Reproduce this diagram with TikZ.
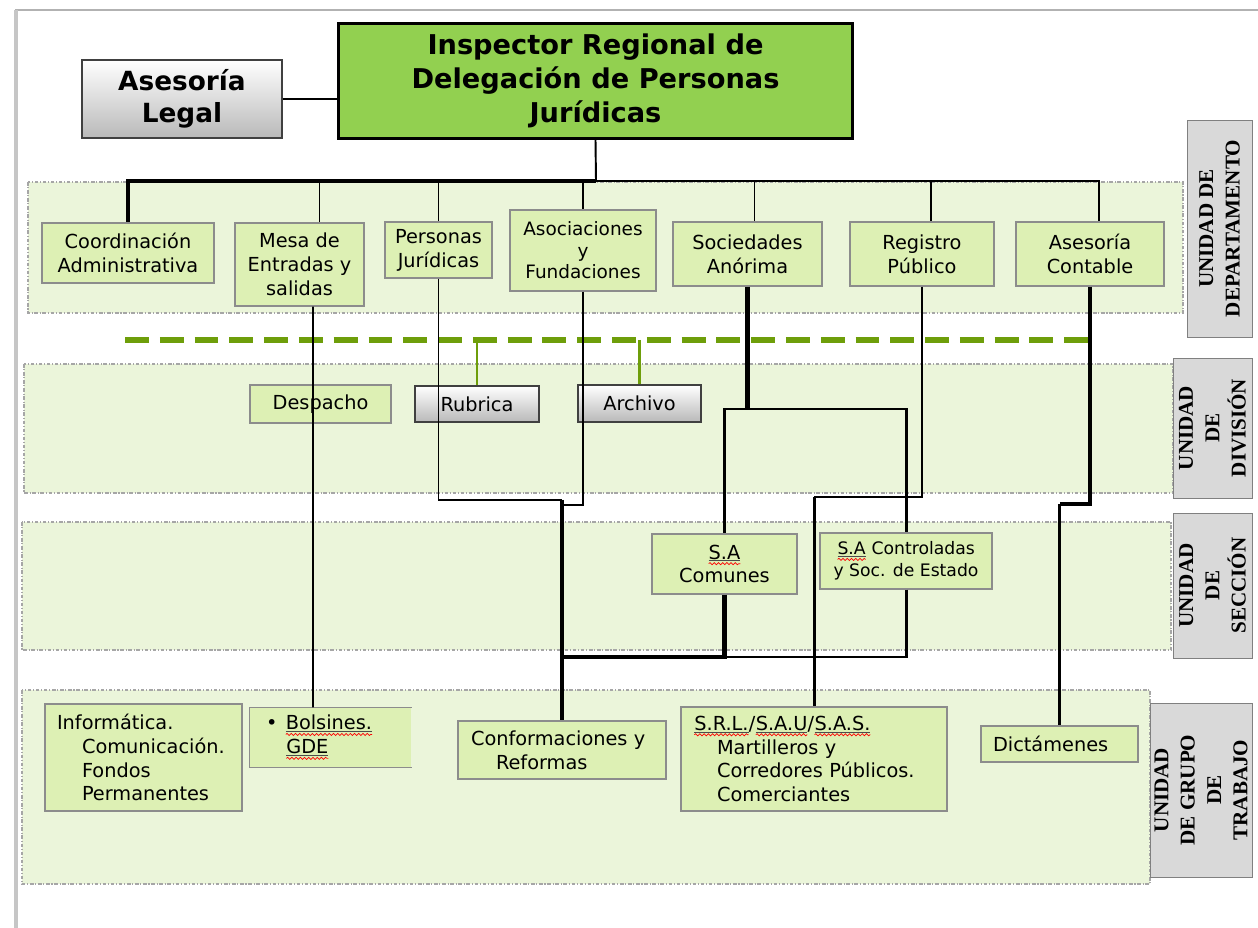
\documentclass[tikz,border=0pt]{standalone}
\usepackage{fontspec}
\setmainfont{DejaVu Sans}
\newfontfamily\lblfont{Liberation Serif}
\usetikzlibrary{positioning,calc,decorations.pathmorphing}
\definecolor{bandgreen}{HTML}{EBF5DA}
\definecolor{boxgreen}{HTML}{DDF0B4}
\definecolor{headgreen}{HTML}{92D050}
\definecolor{dashgreen}{HTML}{6E9E0A}
\definecolor{lblgray}{HTML}{D9D9D9}
% underlined word with a red spelling wave
\newcommand{\spell}[1]{\tikz[baseline=(w.base)]{\node[inner sep=0pt,outer sep=0pt,draw=none,fill=none,text width={},
    minimum width=0pt,minimum height=0pt,align=center] (w) {#1};
  \draw[black!70,line width=0.4pt] ([yshift=-1pt]w.base west) -- ([yshift=-1pt]w.base east);
  \draw[red,line width=0.4pt,decorate,decoration={snake,amplitude=0.6pt,segment length=2.4pt}] ([yshift=-2.6pt]w.base west) -- ([yshift=-2.6pt]w.base east);}}

\begin{document}
\begin{tikzpicture}[x=0.02cm,y=-0.02cm]
  \tikzstyle{band}=[draw=gray!70,fill=bandgreen,line width=0.6pt,dash pattern=on 2pt off 1pt on 0.6pt off 1pt]
  \tikzstyle{dep}=[draw=gray!90,fill=boxgreen,line width=0.7pt,align=center,inner sep=1pt,font=\fontsize{11}{13.6}\selectfont]
  \tikzstyle{lft}=[dep,align=left,inner xsep=0.24cm]
  \tikzstyle{grey}=[dep,draw=black!75,top color=white,bottom color=gray!55]
  \tikzstyle{lvl}=[draw=gray,fill=lblgray,rotate=90,align=center,inner sep=1pt,font=\lblfont\bfseries\fontsize{12}{15}\selectfont]
  \tikzstyle{link}=[line width=1.1pt]
  \tikzstyle{mid}=[line width=1.7pt]
  \tikzstyle{heavy}=[line width=2.4pt]
  \useasboundingbox (0,0) rectangle (1258,928);
  % page edge
  \draw[gray!60,line width=0.6pt] (15,10) -- (1258,10);
  \draw[gray!45,line width=2pt] (16,10) -- (16,928);
  % bands
  \draw[band] (28,182) rectangle (1183,313);
  \draw[band] (24,364) rectangle (1173,493);
  \draw[band] (22,522) rectangle (1171,650);
  \draw[band] (22,690) rectangle (1150,884);
  % level labels
  \node[lvl,minimum width=4.34cm,minimum height=1.3cm] (ldep) at (1219.5,228.5) {UNIDAD DE\\DEPARTAMENTO};
  \node[lvl,minimum width=2.8cm,minimum height=1.58cm] (ldiv) at (1212.5,428) {UNIDAD\\DE\\DIVISIÓN};
  \node[lvl,minimum width=2.9cm,minimum height=1.58cm] (lsec) at (1212.5,585.5) {UNIDAD\\DE\\SECCIÓN};
  \node[lvl,minimum width=3.48cm,minimum height=2.04cm] (lgrp) at (1201,790) {UNIDAD\\DE GRUPO\\DE\\TRABAJO};
  % top
  \node[draw=black,line width=1.7pt,fill=headgreen,minimum width=10.3cm,minimum height=2.3cm,align=center,
    font=\bfseries\fontsize{15.5}{19.3}\selectfont] (insp) at (595.5,81) {Inspector Regional de\\Delegación de Personas\\Jurídicas};
  \node[grey,minimum width=4cm,minimum height=1.56cm,font=\bfseries\fontsize{15}{18}\selectfont] (legal) at (182,99) {Asesoría\\Legal};
  % departamento
  \node[dep,minimum width=3.44cm,minimum height=1.2cm] (coord) at (128,253) {Coordinación\\Administrativa};
  \node[dep,minimum width=2.58cm,minimum height=1.66cm] (mesa) at (299.5,264.5) {Mesa de\\Entradas y\\salidas};
  \node[dep,minimum width=2.14cm,minimum height=1.12cm] (pers) at (438.5,250) {Personas\\Jurídicas};
  \node[dep,minimum width=2.92cm,minimum height=1.62cm,font=\fontsize{10.5}{12.2}\selectfont] (asoc) at (583,250.5) {Asociaciones\\y\\Fundaciones};
  \node[dep,minimum width=2.98cm,minimum height=1.28cm] (soc) at (747.5,254) {Sociedades\\Anórima};
  \node[dep,minimum width=2.88cm,minimum height=1.28cm] (reg) at (922,254) {Registro\\Público};
  \node[dep,minimum width=2.96cm,minimum height=1.28cm] (acont) at (1090,254) {Asesoría\\Contable};
  % division
  \node[dep,minimum width=2.82cm,minimum height=0.76cm] (desp) at (320.5,404) {Despacho};
  \node[grey,minimum width=2.48cm,minimum height=0.72cm] (rub) at (477,404) {Rubrica};
  \node[grey,minimum width=2.46cm,minimum height=0.74cm] (arch) at (639.5,403.5) {Archivo};
  % seccion
  \node[dep,minimum width=2.9cm,minimum height=1.2cm] (sacom) at (724.5,564) {\spell{S.A}\\Comunes};
  \node[dep,minimum width=3.44cm,minimum height=1.12cm,font=\fontsize{9.8}{12.4}\selectfont] (sacon) at (906,561) {\spell{S.A} Controladas\\y Soc. de Estado};
  % grupo de trabajo
  \node[lft,text width=3.46cm,minimum height=2.14cm] (info) at (143.5,757.5) {Informática.\\\hspace*{5mm}Comunicación.\\\hspace*{5mm}Fondos\\\hspace*{5mm}Permanentes};
  \node[lft,draw=none,inner xsep=0.32cm,text width=2.58cm,minimum height=1.18cm] (bols) at (330.5,737.5) {•\hspace{1.6mm}\spell{Bolsines.}\\\hspace*{4mm}\spell{GDE}};
  \draw[gray!90,line width=0.7pt] (bols.north east) -- (bols.north west) -- (bols.south west) -- (bols.south east);
  \node[lft,inner xsep=0.26cm,text width=3.64cm,minimum height=1.16cm] (conf) at (562,750) {Conformaciones y\\\hspace*{5mm}Reformas};
  \node[lft,inner xsep=0.26cm,text width=4.8cm,minimum height=2.08cm] (srl) at (814,759) {\spell{S.R.L.}/\spell{S.A.U}/\spell{S.A.S.}\\\hspace*{4.6mm}Martilleros y\\\hspace*{4.6mm}Corredores Públicos.\\\hspace*{4.6mm}Comerciantes};
  \node[lft,text width=2.66cm,minimum height=0.72cm] (dict) at (1059.5,744) {Dictámenes};
  % green dashed line
  \coordinate (gl) at (125,340);
  \coordinate (gr) at (1093,340);
  \draw[dashgreen,line width=3.4pt,dash pattern=on 13.6pt off 6.2pt] (gl) -- (gr);
  \draw[dashgreen,line width=1.7pt] (rub.north |- gl) -- (rub.north);
  \draw[dashgreen,line width=1.7pt] (arch.north |- gl) -- (arch.north);
  % connectors
  \coordinate (bus) at (596,181);
  \draw[link] (legal.east) -- (legal.east -| insp.west);
  \draw[link] (insp.south) -- (bus);
  \draw[heavy] (bus) -| (coord.north);
  \draw[link] (bus) -| ($(mesa.north)+(20,0)$);
  \draw[link] (bus) -| (pers.north);
  \draw[link] (bus) -| (asoc.north);
  \draw[link] (bus) -| ($(soc.north)+(7,0)$);
  \draw[link] (bus) -| ($(reg.north)+(9,0)$);
  \draw[link] (bus) -| ($(acont.north)+(9,0)$);
  \draw[link] ($(mesa.south)+(13.5,0)$) -- ($(bols.north)+(-17.5,0)$);
  \coordinate (jp) at (562,500);
  \coordinate (ja) at (562,505);
  \coordinate (js) at (562,657);
  \draw[link] (pers.south) |- (jp);
  \draw[link] (asoc.south) |- (ja);
  \draw[heavy] (jp) -- (conf.north);
  \coordinate (jsoc) at (747.5,409);
  \draw[heavy] (soc.south) -- (jsoc);
  \draw[mid] (jsoc) -| (sacom.north);
  \draw[mid] (jsoc) -| (sacon.north);
  \draw[heavy] (sacom.south) |- (js);
  \draw[mid] (sacon.south) |- (js);
  \coordinate (jr) at (814,497);
  \draw[link] (reg.south) |- (jr);
  \draw[mid] (jr) -- (srl.north);
  \coordinate (jd) at (1059.5,504);
  \draw[heavy] (acont.south) |- (jd);
  \draw[mid] (jd) -- (dict.north);
\end{tikzpicture}
\end{document}
